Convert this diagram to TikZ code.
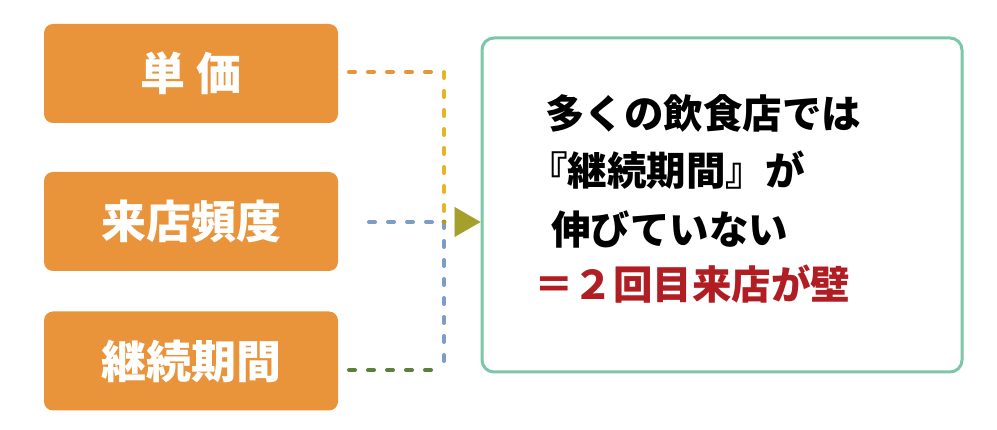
\documentclass[tikz,border=0pt]{standalone}
\usepackage{fontspec}
\newfontfamily\cjk{Noto Sans CJK JP}
\usetikzlibrary{arrows.meta}
\definecolor{boxorange}{HTML}{E9933A}
\definecolor{frameteal}{HTML}{7CC6A9}
\definecolor{wallred}{HTML}{B01E23}
\definecolor{linegold}{HTML}{E6B524}
\definecolor{lineblue}{HTML}{7D9CC6}
\definecolor{linegreen}{HTML}{5E7F3A}
\definecolor{tipolive}{HTML}{A5A02C}
\begin{document}
\begin{tikzpicture}[x=1pt, y=-1pt,
	factor/.style={fill=boxorange, rounded corners=9pt, minimum width=294pt, minimum height=99pt, text=white, font=\cjk\bfseries\fontsize{45pt}{50pt}\selectfont},
	dots/.style={line width=4pt, line cap=round, dash pattern=on 6pt off 13pt},
	line/.style={anchor=west, inner sep=0pt, font=\cjk\bfseries\fontsize{39.5pt}{44pt}\selectfont}]
	\useasboundingbox (0,0) rectangle (997,430);
	\node[factor] (tanka) at (191,73.5) {単\hspace{0.25em}価};
	\node[factor] (hindo) at (191,221.5) {来店頻度};
	\node[factor] (keizoku) at (191,361) {継続期間};
	\node[draw=frameteal, line width=3pt, rounded corners=12pt, minimum width=480pt, minimum height=334pt] (kekka) at (722,205) {};
	\coordinate (join) at (444,222);
	\coordinate (top) at (444,72);
	\coordinate (bottom) at (444,370);

	\draw[dots, boxorange] (349,72) -- (top);
	\draw[dots, linegold] (top) -- (join);
	\draw[dots, lineblue] (369,222) -- (join);
	\draw[dots, lineblue] (join) -- (bottom);
	\draw[dots, linegreen] (349,370) -- (bottom);
	\fill[tipolive] (join) circle (2.5pt);
	\draw[tipolive, line width=0.1pt, shorten <=12pt, -{Triangle[length=26pt, width=30pt]}] (join) -- (join -| kekka.west);

	\node[line] (l1) at (545,113) {多くの飲食店では};
	\node[line] (l2) at (528,170) {『継続期間』が};
	\node[line] (l3) at (551,229) {伸びていない};
	\node[line, text=wallred] (l4) at (534,284) {＝２回目来店が壁};
\end{tikzpicture}
\end{document}
